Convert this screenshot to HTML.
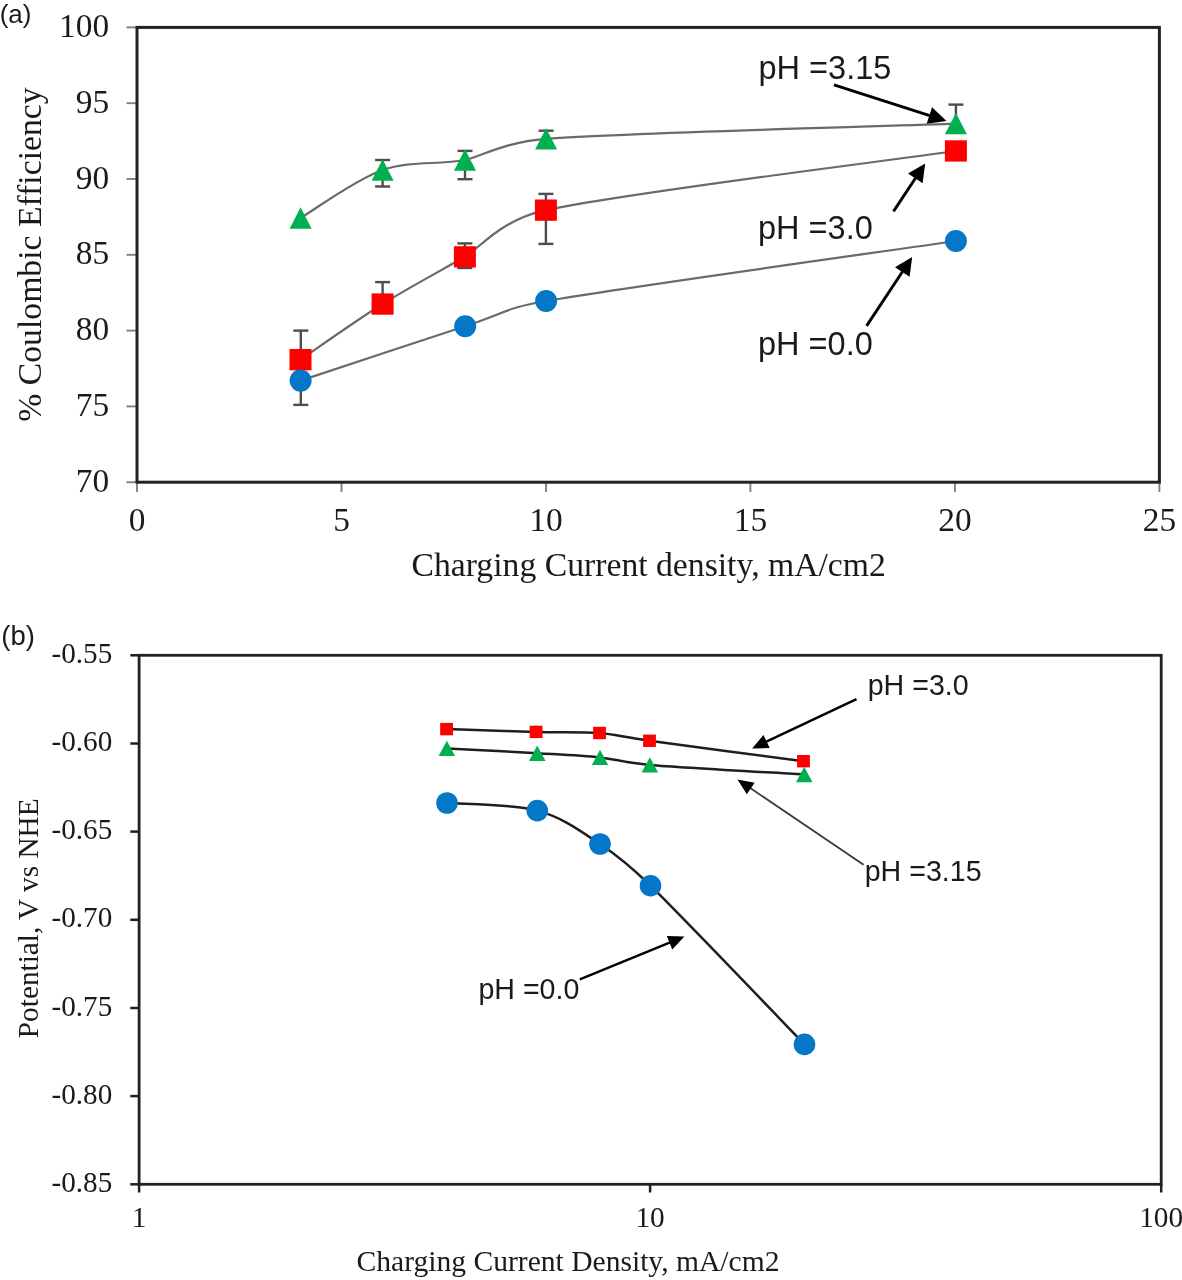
<!DOCTYPE html>
<html><head><meta charset="utf-8"><style>
html,body{margin:0;padding:0;background:#fff;}
body{width:1182px;height:1280px;overflow:hidden;}
svg{display:block;filter:blur(0.45px);}
</style></head><body>
<svg width="1182" height="1280" viewBox="0 0 1182 1280">
<rect width="1182" height="1280" fill="#fff"/>
<line x1="126.5" y1="27.4" x2="137.0" y2="27.4" stroke="#808080" stroke-width="1.9"/>
<text x="109.2" y="37.0" font-family="'Liberation Serif', serif" font-size="33.40" text-anchor="end" fill="#1a1a1a" >100</text>
<line x1="126.5" y1="103.2" x2="137.0" y2="103.2" stroke="#808080" stroke-width="1.9"/>
<text x="109.2" y="112.8" font-family="'Liberation Serif', serif" font-size="33.40" text-anchor="end" fill="#1a1a1a" >95</text>
<line x1="126.5" y1="179.0" x2="137.0" y2="179.0" stroke="#808080" stroke-width="1.9"/>
<text x="109.2" y="188.6" font-family="'Liberation Serif', serif" font-size="33.40" text-anchor="end" fill="#1a1a1a" >90</text>
<line x1="126.5" y1="254.8" x2="137.0" y2="254.8" stroke="#808080" stroke-width="1.9"/>
<text x="109.2" y="264.4" font-family="'Liberation Serif', serif" font-size="33.40" text-anchor="end" fill="#1a1a1a" >85</text>
<line x1="126.5" y1="330.6" x2="137.0" y2="330.6" stroke="#808080" stroke-width="1.9"/>
<text x="109.2" y="340.2" font-family="'Liberation Serif', serif" font-size="33.40" text-anchor="end" fill="#1a1a1a" >80</text>
<line x1="126.5" y1="406.4" x2="137.0" y2="406.4" stroke="#808080" stroke-width="1.9"/>
<text x="109.2" y="416.0" font-family="'Liberation Serif', serif" font-size="33.40" text-anchor="end" fill="#1a1a1a" >75</text>
<line x1="126.5" y1="482.2" x2="137.0" y2="482.2" stroke="#808080" stroke-width="1.9"/>
<text x="109.2" y="491.8" font-family="'Liberation Serif', serif" font-size="33.40" text-anchor="end" fill="#1a1a1a" >70</text>
<line x1="137.0" y1="482.2" x2="137.0" y2="492" stroke="#808080" stroke-width="1.9"/>
<text x="137.0" y="531.0" font-family="'Liberation Serif', serif" font-size="33.40" text-anchor="middle" fill="#1a1a1a" >0</text>
<line x1="341.5" y1="482.2" x2="341.5" y2="492" stroke="#808080" stroke-width="1.9"/>
<text x="341.5" y="531.0" font-family="'Liberation Serif', serif" font-size="33.40" text-anchor="middle" fill="#1a1a1a" >5</text>
<line x1="546.0" y1="482.2" x2="546.0" y2="492" stroke="#808080" stroke-width="1.9"/>
<text x="546.0" y="531.0" font-family="'Liberation Serif', serif" font-size="33.40" text-anchor="middle" fill="#1a1a1a" >10</text>
<line x1="750.4" y1="482.2" x2="750.4" y2="492" stroke="#808080" stroke-width="1.9"/>
<text x="750.4" y="531.0" font-family="'Liberation Serif', serif" font-size="33.40" text-anchor="middle" fill="#1a1a1a" >15</text>
<line x1="954.9" y1="482.2" x2="954.9" y2="492" stroke="#808080" stroke-width="1.9"/>
<text x="954.9" y="531.0" font-family="'Liberation Serif', serif" font-size="33.40" text-anchor="middle" fill="#1a1a1a" >20</text>
<line x1="1159.4" y1="482.2" x2="1159.4" y2="492" stroke="#808080" stroke-width="1.9"/>
<text x="1159.4" y="531.0" font-family="'Liberation Serif', serif" font-size="33.40" text-anchor="middle" fill="#1a1a1a" >25</text>
<rect x="137.0" y="27.4" width="1022.4" height="454.8" fill="none" stroke="#222" stroke-width="3"/>
<text x="411.5" y="575.5" font-family="'Liberation Serif', serif" font-size="33.70" text-anchor="start" fill="#1a1a1a" >Charging Current density, mA/cm2</text>
<text x="0.0" y="0.0" font-family="'Liberation Serif', serif" font-size="33.70" text-anchor="start" fill="#1a1a1a" transform="translate(41.3,421.7) rotate(-90)">% Coulombic Efficiency</text>
<text x="-0.3" y="23.4" font-family="'Liberation Sans', sans-serif" font-size="26.00" text-anchor="start" fill="#1a1a1a" >(a)</text>
<path d="M300.60,218.00 C314.27,210.00 355.20,179.67 382.60,170.00 C410.00,160.33 437.75,165.20 465.00,160.00 C478.92,157.34 504.30,141.90 546.10,138.80 C627.92,132.73 887.60,126.13 955.90,123.60" fill="none" stroke="#6a6a6a" stroke-width="2.2"/>
<path d="M300.50,359.60 C314.18,350.33 355.20,321.13 382.60,304.00 C410.00,286.87 437.68,272.43 464.90,256.80 C480.09,248.07 500.22,220.04 545.90,210.20 C627.73,192.57 887.57,160.87 955.90,151.00" fill="none" stroke="#6a6a6a" stroke-width="2.2"/>
<path d="M300.60,380.60 C328.03,371.53 424.28,339.47 465.20,326.20 C505.50,313.13 504.36,308.25 546.10,301.00 C627.88,286.80 887.60,251.00 955.90,241.00" fill="none" stroke="#6a6a6a" stroke-width="2.2"/>
<line x1="382.6" y1="160.0" x2="382.6" y2="186.5" stroke="#4d4d4d" stroke-width="2.4"/><line x1="375.1" y1="160.0" x2="390.1" y2="160.0" stroke="#4d4d4d" stroke-width="2.4"/><line x1="375.1" y1="186.5" x2="390.1" y2="186.5" stroke="#4d4d4d" stroke-width="2.4"/>
<line x1="465.0" y1="150.9" x2="465.0" y2="179.2" stroke="#4d4d4d" stroke-width="2.4"/><line x1="457.5" y1="150.9" x2="472.5" y2="150.9" stroke="#4d4d4d" stroke-width="2.4"/><line x1="457.5" y1="179.2" x2="472.5" y2="179.2" stroke="#4d4d4d" stroke-width="2.4"/>
<line x1="546.1" y1="130.7" x2="546.1" y2="146.9" stroke="#4d4d4d" stroke-width="2.4"/><line x1="538.6" y1="130.7" x2="553.6" y2="130.7" stroke="#4d4d4d" stroke-width="2.4"/><line x1="538.6" y1="146.9" x2="553.6" y2="146.9" stroke="#4d4d4d" stroke-width="2.4"/>
<line x1="955.9" y1="104.6" x2="955.9" y2="124.0" stroke="#4d4d4d" stroke-width="2.4"/><line x1="948.4" y1="104.6" x2="963.4" y2="104.6" stroke="#4d4d4d" stroke-width="2.4"/>
<line x1="300.8" y1="330.6" x2="300.8" y2="359.0" stroke="#4d4d4d" stroke-width="2.4"/><line x1="293.3" y1="330.6" x2="308.3" y2="330.6" stroke="#4d4d4d" stroke-width="2.4"/>
<line x1="382.6" y1="282.1" x2="382.6" y2="304.0" stroke="#4d4d4d" stroke-width="2.4"/><line x1="375.1" y1="282.1" x2="390.1" y2="282.1" stroke="#4d4d4d" stroke-width="2.4"/>
<line x1="464.9" y1="243.4" x2="464.9" y2="268.0" stroke="#4d4d4d" stroke-width="2.4"/><line x1="457.4" y1="243.4" x2="472.4" y2="243.4" stroke="#4d4d4d" stroke-width="2.4"/><line x1="457.4" y1="268.0" x2="472.4" y2="268.0" stroke="#4d4d4d" stroke-width="2.4"/>
<line x1="545.9" y1="193.9" x2="545.9" y2="243.9" stroke="#4d4d4d" stroke-width="2.4"/><line x1="538.4" y1="193.9" x2="553.4" y2="193.9" stroke="#4d4d4d" stroke-width="2.4"/><line x1="538.4" y1="243.9" x2="553.4" y2="243.9" stroke="#4d4d4d" stroke-width="2.4"/>
<line x1="300.8" y1="380.0" x2="300.8" y2="404.9" stroke="#4d4d4d" stroke-width="2.4"/><line x1="293.3" y1="404.9" x2="308.3" y2="404.9" stroke="#4d4d4d" stroke-width="2.4"/>
<polygon points="300.6,207.3 311.6,228.7 289.6,228.7" fill="#00b050"/>
<polygon points="382.6,159.3 393.6,180.7 371.6,180.7" fill="#00b050"/>
<polygon points="465.0,149.3 476.0,170.7 454.0,170.7" fill="#00b050"/>
<polygon points="546.1,128.2 557.1,149.5 535.1,149.5" fill="#00b050"/>
<polygon points="955.9,112.9 966.9,134.2 944.9,134.2" fill="#00b050"/>
<rect x="289.5" y="349.0" width="22.0" height="21.3" fill="#ff0000"/>
<rect x="371.6" y="293.4" width="22.0" height="21.3" fill="#ff0000"/>
<rect x="453.9" y="246.2" width="22.0" height="21.3" fill="#ff0000"/>
<rect x="534.9" y="199.5" width="22.0" height="21.3" fill="#ff0000"/>
<rect x="944.9" y="140.3" width="22.0" height="21.3" fill="#ff0000"/>
<circle cx="300.6" cy="380.6" r="11.0" fill="#0577c8"/>
<circle cx="465.2" cy="326.2" r="11.0" fill="#0577c8"/>
<circle cx="546.1" cy="301.0" r="11.0" fill="#0577c8"/>
<circle cx="955.9" cy="241.0" r="11.0" fill="#0577c8"/>
<text x="758.5" y="78.7" font-family="'Liberation Sans', sans-serif" font-size="32.50" text-anchor="start" fill="#1a1a1a" >pH =3.15</text>
<text x="758.0" y="239.3" font-family="'Liberation Sans', sans-serif" font-size="32.50" text-anchor="start" fill="#1a1a1a" >pH =3.0</text>
<text x="758.0" y="354.7" font-family="'Liberation Sans', sans-serif" font-size="32.50" text-anchor="start" fill="#1a1a1a" >pH =0.0</text>
<line x1="834.0" y1="84.8" x2="931.3" y2="116.1" stroke="#000" stroke-width="2.9"/><polygon points="946.5,121.0 926.7,123.8 932.0,107.2" fill="#000"/>
<line x1="893.5" y1="211.4" x2="916.4" y2="176.8" stroke="#000" stroke-width="2.9"/><polygon points="925.2,163.4 922.6,183.2 908.0,173.6" fill="#000"/>
<line x1="866.6" y1="325.9" x2="903.4" y2="270.3" stroke="#000" stroke-width="2.9"/><polygon points="912.2,257.0 909.6,276.8 895.0,267.2" fill="#000"/>
<line x1="130.3" y1="655.3" x2="139.1" y2="655.3" stroke="#1e1e1e" stroke-width="2.5"/>
<text x="112.3" y="662.9" font-family="'Liberation Serif', serif" font-size="29.20" text-anchor="end" fill="#1a1a1a" >-0.55</text>
<line x1="130.3" y1="743.5" x2="139.1" y2="743.5" stroke="#1e1e1e" stroke-width="2.5"/>
<text x="112.3" y="751.1" font-family="'Liberation Serif', serif" font-size="29.20" text-anchor="end" fill="#1a1a1a" >-0.60</text>
<line x1="130.3" y1="831.6" x2="139.1" y2="831.6" stroke="#1e1e1e" stroke-width="2.5"/>
<text x="112.3" y="839.2" font-family="'Liberation Serif', serif" font-size="29.20" text-anchor="end" fill="#1a1a1a" >-0.65</text>
<line x1="130.3" y1="919.8" x2="139.1" y2="919.8" stroke="#1e1e1e" stroke-width="2.5"/>
<text x="112.3" y="927.4" font-family="'Liberation Serif', serif" font-size="29.20" text-anchor="end" fill="#1a1a1a" >-0.70</text>
<line x1="130.3" y1="1008.0" x2="139.1" y2="1008.0" stroke="#1e1e1e" stroke-width="2.5"/>
<text x="112.3" y="1015.6" font-family="'Liberation Serif', serif" font-size="29.20" text-anchor="end" fill="#1a1a1a" >-0.75</text>
<line x1="130.3" y1="1096.1" x2="139.1" y2="1096.1" stroke="#1e1e1e" stroke-width="2.5"/>
<text x="112.3" y="1103.7" font-family="'Liberation Serif', serif" font-size="29.20" text-anchor="end" fill="#1a1a1a" >-0.80</text>
<line x1="130.3" y1="1184.3" x2="139.1" y2="1184.3" stroke="#1e1e1e" stroke-width="2.5"/>
<text x="112.3" y="1191.9" font-family="'Liberation Serif', serif" font-size="29.20" text-anchor="end" fill="#1a1a1a" >-0.85</text>
<line x1="139.1" y1="1184.3" x2="139.1" y2="1192.5" stroke="#1e1e1e" stroke-width="2.5"/>
<text x="139.1" y="1227.0" font-family="'Liberation Serif', serif" font-size="29.30" text-anchor="middle" fill="#1a1a1a" >1</text>
<line x1="650.1" y1="1184.3" x2="650.1" y2="1192.5" stroke="#1e1e1e" stroke-width="2.5"/>
<text x="650.1" y="1227.0" font-family="'Liberation Serif', serif" font-size="29.30" text-anchor="middle" fill="#1a1a1a" >10</text>
<line x1="1161.2" y1="1184.3" x2="1161.2" y2="1192.5" stroke="#1e1e1e" stroke-width="2.5"/>
<text x="1161.2" y="1227.0" font-family="'Liberation Serif', serif" font-size="29.30" text-anchor="middle" fill="#1a1a1a" >100</text>
<rect x="139.1" y="655.3" width="1022.1" height="529.0" fill="none" stroke="#222" stroke-width="2.8"/>
<text x="356.6" y="1270.8" font-family="'Liberation Serif', serif" font-size="29.57" text-anchor="start" fill="#1a1a1a" >Charging Current Density, mA/cm2</text>
<text x="0.0" y="0.0" font-family="'Liberation Serif', serif" font-size="29.30" text-anchor="start" fill="#1a1a1a" transform="translate(38,1038.2) rotate(-90)">Potential, V vs NHE</text>
<text x="1.3" y="644.7" font-family="'Liberation Sans', sans-serif" font-size="27.50" text-anchor="start" fill="#1a1a1a" >(b)</text>
<path d="M446.60,729.10 C461.52,729.57 510.62,731.25 536.10,731.90 C561.58,732.55 580.60,731.52 599.50,733.00 C613.43,734.09 624.44,737.34 649.50,740.80 C683.50,745.50 777.83,757.80 803.50,761.20" fill="none" stroke="#1e1e1e" stroke-width="2.5"/>
<path d="M446.90,748.40 C461.95,749.19 511.68,751.65 537.20,753.15 C562.72,754.65 581.22,755.44 600.00,757.40 C613.88,758.85 624.76,762.79 649.90,764.90 C683.93,767.75 778.48,772.90 804.20,774.50" fill="none" stroke="#1e1e1e" stroke-width="2.5"/>
<path d="M447.00,803.00 C462.05,804.27 511.80,803.77 537.30,810.60 C562.80,817.43 581.13,831.48 600.00,844.00 C612.95,852.59 627.11,862.78 650.50,885.70 C684.58,919.10 778.83,1017.95 804.50,1044.40" fill="none" stroke="#1e1e1e" stroke-width="2.5"/>
<polygon points="446.9,740.7 455.1,756.1 438.6,756.1" fill="#00b050"/>
<polygon points="537.2,745.4 545.5,760.9 529.0,760.9" fill="#00b050"/>
<polygon points="600.0,749.7 608.2,765.1 591.8,765.1" fill="#00b050"/>
<polygon points="649.9,757.2 658.1,772.6 641.6,772.6" fill="#00b050"/>
<polygon points="804.2,766.8 812.5,782.2 796.0,782.2" fill="#00b050"/>
<rect x="440.2" y="722.9" width="12.8" height="12.4" fill="#ff0000"/>
<rect x="529.7" y="725.7" width="12.8" height="12.4" fill="#ff0000"/>
<rect x="593.1" y="726.8" width="12.8" height="12.4" fill="#ff0000"/>
<rect x="643.1" y="734.6" width="12.8" height="12.4" fill="#ff0000"/>
<rect x="797.1" y="755.0" width="12.8" height="12.4" fill="#ff0000"/>
<circle cx="447.0" cy="803.0" r="10.8" fill="#0577c8"/>
<circle cx="537.3" cy="810.6" r="10.8" fill="#0577c8"/>
<circle cx="600.0" cy="844.0" r="10.8" fill="#0577c8"/>
<circle cx="650.5" cy="885.7" r="10.8" fill="#0577c8"/>
<circle cx="804.5" cy="1044.4" r="10.8" fill="#0577c8"/>
<text x="867.7" y="695.0" font-family="'Liberation Sans', sans-serif" font-size="28.60" text-anchor="start" fill="#1a1a1a" >pH =3.0</text>
<text x="864.7" y="880.8" font-family="'Liberation Sans', sans-serif" font-size="28.60" text-anchor="start" fill="#1a1a1a" >pH =3.15</text>
<text x="478.4" y="999.2" font-family="'Liberation Sans', sans-serif" font-size="28.60" text-anchor="start" fill="#1a1a1a" >pH =0.0</text>
<line x1="856.5" y1="699.2" x2="764.8" y2="742.4" stroke="#000" stroke-width="2.4"/><polygon points="752.1,748.4 763.5,735.0 769.7,748.1" fill="#000"/>
<line x1="863.6" y1="864.8" x2="749.1" y2="787.3" stroke="#3a3a3a" stroke-width="1.8"/><polygon points="737.5,779.5 754.7,782.7 746.8,794.3" fill="#000"/>
<line x1="579.8" y1="979.3" x2="671.4" y2="941.9" stroke="#000" stroke-width="2.4"/><polygon points="684.4,936.6 672.3,949.4 666.8,935.9" fill="#000"/>
</svg>
</body></html>
